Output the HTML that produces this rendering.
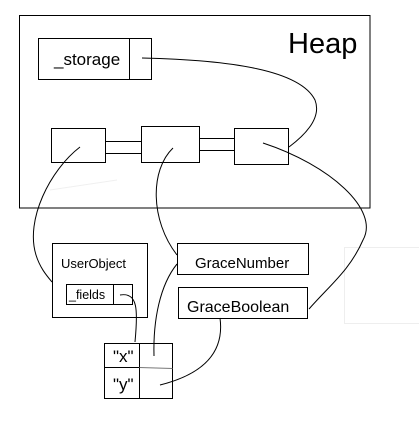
<!DOCTYPE html>
<html><head><meta charset="utf-8"><style>
html,body{margin:0;padding:0;background:#fff;}
svg{display:block;}
text{font-family:"Liberation Sans",sans-serif;fill:#000;}
</style></head><body>
<svg width="419" height="439" viewBox="0 0 419 439" xmlns="http://www.w3.org/2000/svg">
<g fill="none" stroke="#000" stroke-width="1">
<rect x="19.5" y="15.5" width="350.5" height="192.5"/>
<rect x="38.5" y="38.5" width="113" height="41"/>
<line x1="129.5" y1="38.5" x2="129.5" y2="79.5"/>
<rect x="51.5" y="128.5" width="54" height="34"/>
<rect x="141.5" y="126.5" width="58" height="36"/>
<rect x="234.5" y="128.5" width="54" height="36"/>
<line x1="105.5" y1="141.5" x2="141.5" y2="141.5"/>
<line x1="105.5" y1="153.5" x2="141.5" y2="153.5"/>
<line x1="199.5" y1="138.5" x2="234.5" y2="138.5"/>
<line x1="199.5" y1="150.5" x2="234.5" y2="150.5"/>
<rect x="52.5" y="243.5" width="95" height="74"/>
<rect x="66.5" y="284.5" width="66" height="20"/>
<line x1="113.5" y1="284.5" x2="113.5" y2="304.5"/>
<rect x="177.5" y="243.5" width="131" height="31"/>
<rect x="178.5" y="287.5" width="129" height="31"/>
<rect x="104.5" y="343.5" width="68" height="55"/>
<line x1="139.5" y1="343.5" x2="139.5" y2="398.5"/>
<line x1="104.5" y1="367.5" x2="139.5" y2="367.5"/>
<line x1="139.5" y1="367.5" x2="172.5" y2="368.5" stroke="#777"/>
<rect x="344.5" y="247.5" width="80" height="76" stroke="#eee"/>
<path d="M142 58 C 230 60, 300 70, 315 100 C 322 118, 305 135, 289 147"/>
<path d="M80 147 C 50 170, 25 220, 36 255 C 40 268, 47 276, 52 282"/>
<path d="M173 148 C 150 170, 150 220, 177 255"/>
<path d="M177 264 C 160 285, 153 320, 154 356"/>
<path d="M263 143 C 330 165, 380 210, 363 240 C 350 270, 330 285, 309 309"/>
<path d="M120 295 C 138 292, 138 310, 135 342"/>
<path d="M220 318 C 225 355, 200 375, 160 385"/>
<path d="M50 190 L 117 180" stroke="#f0f0f0"/>
</g>
<text x="288" y="53" font-size="29">Heap</text>
<text x="54" y="65" font-size="17">_storage</text>
<text x="61" y="268" font-size="13">UserObject</text>
<text x="69" y="299" font-size="12.5">_fields</text>
<text x="195" y="268" font-size="15">GraceNumber</text>
<text x="187" y="312" font-size="16">GraceBoolean</text>
<text x="113" y="362" font-size="17">"x"</text>
<text x="113" y="390" font-size="17">"y"</text>
</svg>
</body></html>
